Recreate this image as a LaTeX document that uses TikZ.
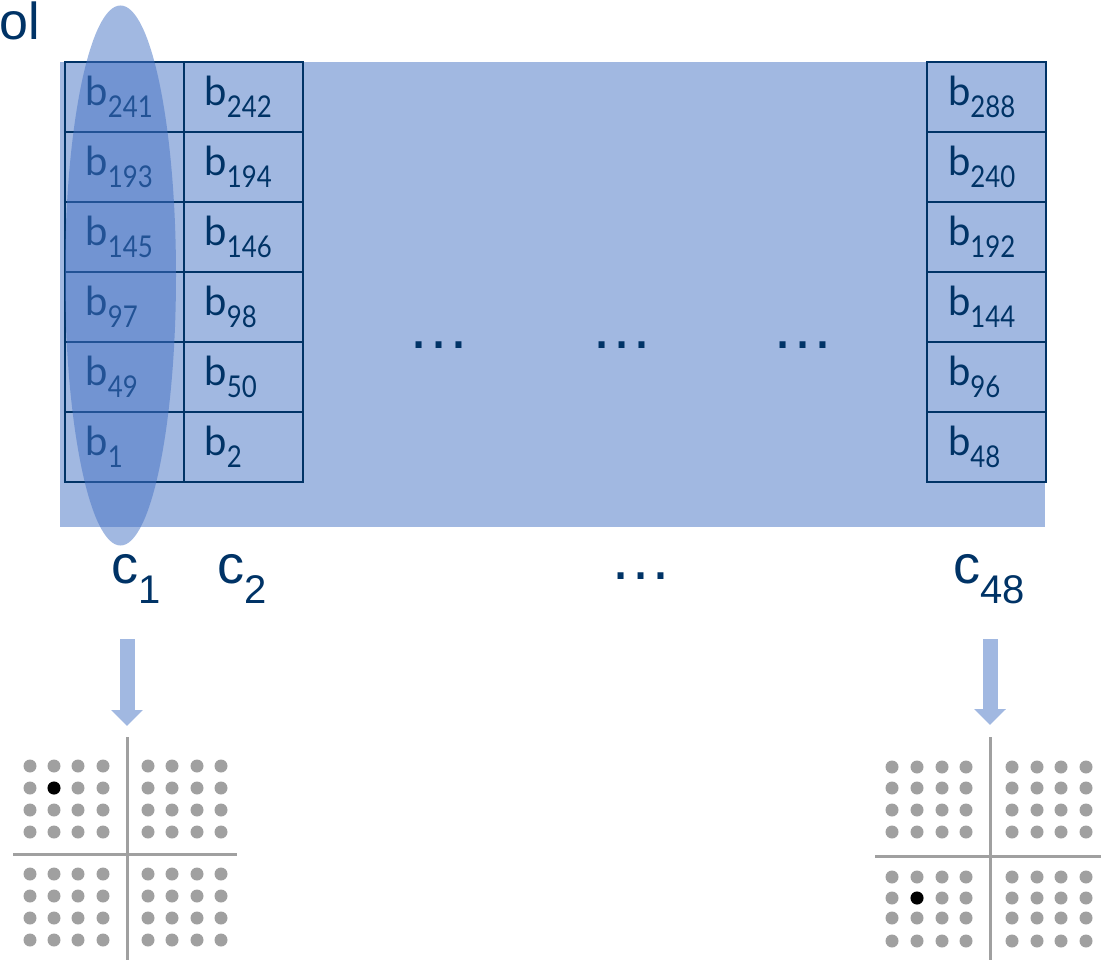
\documentclass[tikz,border=0pt]{standalone}
\usepackage{fontspec}
\setmainfont{Liberation Sans}
\newfontfamily\bfont{Lato}
\usetikzlibrary{arrows.meta}
\definecolor{navy}{HTML}{003366}
\definecolor{lblue}{HTML}{A1B8E1}
\definecolor{mblue}{HTML}{4472C4}
\definecolor{dotgray}{HTML}{A0A0A0}
\newcommand{\blab}[1]{\makebox[119pt][l]{\hspace{21pt}\raisebox{2pt}{{\bfont\fontsize{40}{40}\selectfont b}\raisebox{-12pt}{\scalebox{0.86}[1]{\bfont\fontsize{30}{30}\selectfont #1}}}}}
\newcommand{\clab}[1]{{\fontsize{54}{54}\selectfont c}\raisebox{-20pt}{\fontsize{40}{40}\selectfont #1}}
\begin{document}
\begin{tikzpicture}[x=1pt,y=-1pt,
  cell/.style={draw=navy,line width=2pt,minimum width=119pt,minimum height=70pt,inner sep=0pt,text=navy},
  clabel/.style={anchor=base west,inner sep=0pt,text=navy},
  dots/.style={text=navy,inner sep=0pt,font=\fontsize{63}{63}\selectfont},
  bigarrow/.style={draw=lblue,line width=15pt,-{Triangle[width=31pt,length=16pt]}},
  axis/.style={draw=dotgray,line width=3pt}]
\useasboundingbox (0,0) rectangle (1101,960);
% background band
\fill[lblue] (60,62) rectangle (1045,527);
% cells
\foreach \n/\y in {241/97,193/167,145/237,97/307,49/377,1/447}{
  \node[cell] (a\n) at (124,\y) {\blab{\n}};
}
\foreach \n/\y in {242/97,194/167,146/237,98/307,50/377,2/447}{
  \node[cell] (b\n) at (243,\y) {\blab{\n}};
}
\foreach \n/\y in {288/97,240/167,192/237,144/307,96/377,48/447}{
  \node[cell] (z\n) at (986.5,\y) {\blab{\n}};
}
% highlighted column
\fill[mblue,opacity=0.5] (120.5,275.5) ellipse [x radius=55.5pt, y radius=270pt];
% dots
\node[dots] (d1) at (439,345) {…};
\node[dots] (d2) at (622,345) {…};
\node[dots] (d3) at (803,345) {…};
\node[dots] (d4) at (641,576) {…};
% title fragment
\node[anchor=base west,inner sep=0pt,text=navy,font=\fontsize{52}{52}\selectfont] (title) at (-1,40) {ol};
% column labels
\node[clabel] (c1) at (111,583) {\clab{1}};
\node[clabel] (c2) at (217,583) {\clab{2}};
\node[clabel] (c48) at (953,583) {\clab{48}};
% arrows
\coordinate (s1) at (127,639);
\coordinate (e1) at (127,726);
\coordinate (s2) at (990,639);
\coordinate (e2) at (990,725);
\draw[bigarrow] (s1) -- (e1);
\draw[bigarrow] (s2) -- (e2);
% left constellation
\draw[axis] (127,737) -- (127,960);
\draw[axis] (13,854) -- (237,854);
\foreach \x in {30,54,78,103,148,172,197,221}{
  \foreach \y in {766,788,810,832,874,896,918,940}{
    \fill[dotgray] (\x,\y) circle[radius=6.5pt];
  }
}
\fill[black] (54,788) circle[radius=6.5pt];
% right constellation
\draw[axis] (990,737) -- (990,960);
\draw[axis] (875,856) -- (1101,856);
\foreach \x in {892,917,942,966,1012,1037,1061,1086}{
  \foreach \y in {767,788,810,832,877,898,918,941}{
    \fill[dotgray] (\x,\y) circle[radius=6.5pt];
  }
}
\fill[black] (917,898) circle[radius=6.5pt];
\end{tikzpicture}
\end{document}
